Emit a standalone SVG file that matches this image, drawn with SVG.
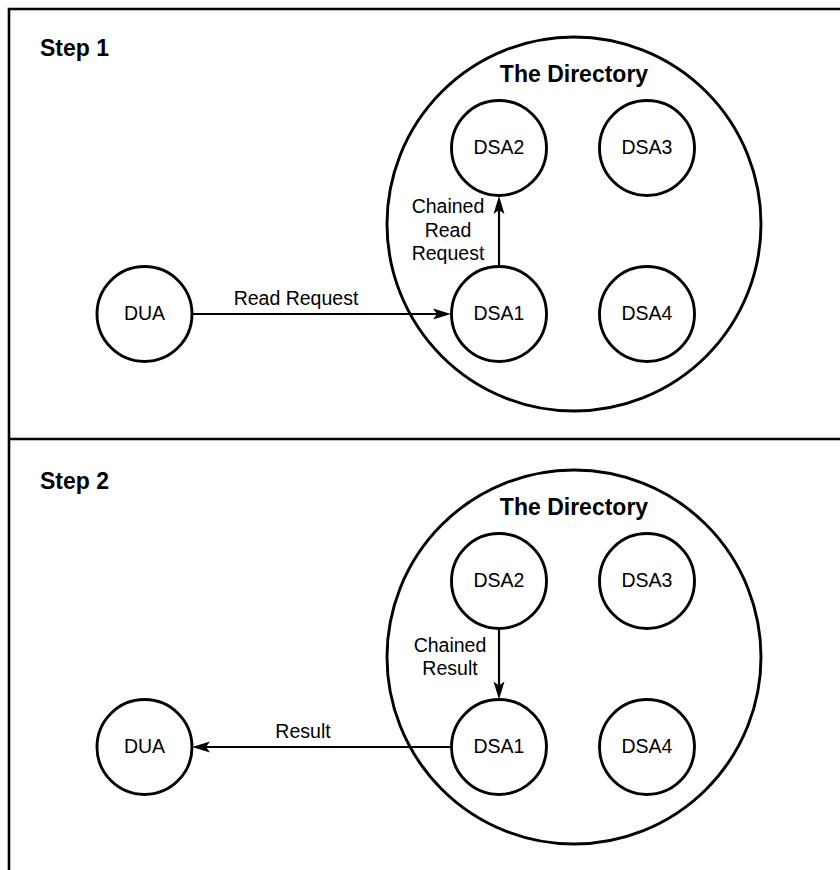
<svg xmlns="http://www.w3.org/2000/svg" width="840" height="870" viewBox="0 0 840 870">
  <style>
    .frame { fill: none; stroke: #000; stroke-width: 2.6; }
    .dir { fill: none; stroke: #000; stroke-width: 2.9; }
    .node { fill: #fff; stroke: #000; stroke-width: 2.9; }
    .link { fill: none; stroke: #000; stroke-width: 2.2; }
    .head { font-family: "Liberation Sans", Arial, Helvetica, sans-serif; font-weight: bold; font-size: 23px; fill: #000; }
    .lbl { font-family: "Liberation Sans", Arial, Helvetica, sans-serif; font-size: 19.5px; fill: #000; text-anchor: middle; }
  </style>
  <defs>
    <marker id="arrow" viewBox="0 -6 18 12" refX="4" refY="0" markerWidth="18" markerHeight="12" markerUnits="userSpaceOnUse" orient="auto" overflow="visible">
      <path d="M18,0 L0,-5.5 L4,0 L0,5.5 Z" fill="#000"/>
    </marker>
  </defs>

  <rect width="840" height="870" fill="#fff"/>

  <!-- panel frame: left edge, top edge, divider between the two steps -->
  <g id="frame">
    <path class="frame" d="M9,870 V9 H840"/>
    <path class="frame" d="M9,439 H840"/>
  </g>

  <!-- Step 1 -->
  <g id="step1">
    <text class="head" x="40" y="56">Step 1</text>
    <g id="directory1">
      <circle class="dir" cx="574" cy="224" r="187"/>
      <text class="head" x="574" y="82" text-anchor="middle">The Directory</text>
    </g>
    <g id="s1-dsa2"><circle class="node" cx="499" cy="148" r="47.5"/><text class="lbl" x="499" y="154">DSA2</text></g>
    <g id="s1-dsa3"><circle class="node" cx="647" cy="148" r="47.5"/><text class="lbl" x="647" y="154">DSA3</text></g>
    <g id="s1-dsa1"><circle class="node" cx="499" cy="314" r="47.5"/><text class="lbl" x="499" y="320">DSA1</text></g>
    <g id="s1-dsa4"><circle class="node" cx="647" cy="314" r="47.5"/><text class="lbl" x="647" y="320">DSA4</text></g>
    <g id="s1-dua"><circle class="node" cx="144.5" cy="314" r="47.5"/><text class="lbl" x="144.5" y="320">DUA</text></g>
    <g id="s1-connectors">
      <line class="link" x1="192" y1="314" x2="437" y2="314" marker-end="url(#arrow)"/>
      <line class="link" x1="499" y1="266.5" x2="499" y2="210" marker-end="url(#arrow)"/>
      <text class="lbl" x="296" y="305">Read Request</text>
      <text class="lbl" x="448" y="213">Chained</text>
      <text class="lbl" x="448" y="237">Read</text>
      <text class="lbl" x="448" y="260">Request</text>
    </g>
  </g>

  <!-- Step 2 -->
  <g id="step2">
    <text class="head" x="40" y="489">Step 2</text>
    <g id="directory2">
      <circle class="dir" cx="574" cy="657" r="187"/>
      <text class="head" x="574" y="515" text-anchor="middle">The Directory</text>
    </g>
    <g id="s2-dsa2"><circle class="node" cx="499" cy="581" r="47.5"/><text class="lbl" x="499" y="587">DSA2</text></g>
    <g id="s2-dsa3"><circle class="node" cx="647" cy="581" r="47.5"/><text class="lbl" x="647" y="587">DSA3</text></g>
    <g id="s2-dsa1"><circle class="node" cx="499" cy="747" r="47.5"/><text class="lbl" x="499" y="753">DSA1</text></g>
    <g id="s2-dsa4"><circle class="node" cx="647" cy="747" r="47.5"/><text class="lbl" x="647" y="753">DSA4</text></g>
    <g id="s2-dua"><circle class="node" cx="144.5" cy="747" r="47.5"/><text class="lbl" x="144.5" y="753">DUA</text></g>
    <g id="s2-connectors">
      <line class="link" x1="499" y1="628.5" x2="499" y2="685.5" marker-end="url(#arrow)"/>
      <line class="link" x1="451.5" y1="747" x2="206" y2="747" marker-end="url(#arrow)"/>
      <text class="lbl" x="450" y="652">Chained</text>
      <text class="lbl" x="450" y="675">Result</text>
      <text class="lbl" x="303" y="738">Result</text>
    </g>
  </g>
</svg>
